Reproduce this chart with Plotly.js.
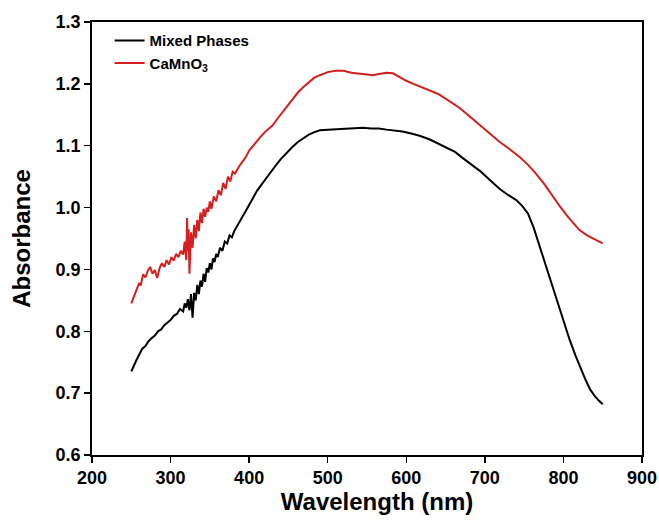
<!DOCTYPE html>
<html>
<head>
<meta charset="utf-8">
<script src="https://cdn.plot.ly/plotly-3.0.1.min.js"></script>
<style>html,body{margin:0;padding:0;background:#fff;}#chart{width:659px;height:520px;}</style>
</head>
<body>
<div id="chart"></div>
<script>
const mixedX = [250,253,256,260,264,268,272,276,280,284,288,292,296,300,304,308,312,316,318,320,322,324,326,328,330,332,334,336,338,340,342,344,346,348,350,352,354,356,358,360,363,366,369,372,375,378,381,385,390,395,400,405,410,415,420,425,430,435,440,448,455,462,469,476,483,490,500,512,525,535,545,555,565,575,585,595,605,617,630,640,652,662,672,681,694,706,719,730,740,748,755,762,770,777,783,790,796,802,808,815,821,828,834,840,845,850];
const mixedY = [0.735,0.745,0.752,0.762,0.772,0.776,0.784,0.789,0.793,0.800,0.803,0.810,0.814,0.818,0.825,0.828,0.836,0.832,0.845,0.838,0.852,0.834,0.860,0.822,0.862,0.850,0.875,0.860,0.882,0.872,0.893,0.880,0.902,0.895,0.910,0.900,0.918,0.912,0.925,0.920,0.935,0.930,0.945,0.942,0.955,0.952,0.962,0.970,0.982,0.993,1.005,1.017,1.027,1.036,1.045,1.052,1.062,1.070,1.078,1.089,1.098,1.106,1.112,1.118,1.122,1.125,1.126,1.127,1.127,1.128,1.129,1.128,1.128,1.126,1.125,1.123,1.120,1.116,1.110,1.104,1.097,1.090,1.080,1.071,1.059,1.045,1.030,1.020,1.012,1.002,0.990,0.968,0.936,0.910,0.886,0.858,0.833,0.808,0.786,0.762,0.742,0.722,0.706,0.695,0.688,0.682];

const camnoX = [250,252,255,257,260,262,265,268,271,274,277,280,283,286,289,292,295,298,301,304,307,310,313,316,318,320,321,322,323,324,326,328,330,332,334,336,338,340,342,344,346,348,350,352,355,358,361,364,367,370,373,376,379,382,385,388,392,396,400,405,410,415,420,425,430,435,440,448,455,462,469,476,483,490,500,510,520,530,540,550,558,565,575,583,590,600,609,620,630,640,650,660,668,680,694,706,719,732,745,755,765,775,785,796,805,812,820,830,840,850];
const camnoY = [0.845,0.852,0.862,0.870,0.878,0.874,0.892,0.887,0.898,0.904,0.893,0.899,0.886,0.902,0.910,0.904,0.915,0.908,0.920,0.914,0.925,0.920,0.930,0.924,0.945,0.915,0.983,0.930,0.965,0.893,0.960,0.935,0.972,0.950,0.980,0.962,0.992,0.975,0.998,0.985,1.000,0.993,1.010,0.998,1.018,1.010,1.028,1.020,1.040,1.030,1.050,1.042,1.058,1.055,1.062,1.068,1.075,1.082,1.092,1.100,1.108,1.115,1.122,1.127,1.133,1.142,1.150,1.163,1.175,1.186,1.195,1.203,1.210,1.214,1.219,1.221,1.221,1.218,1.217,1.215,1.214,1.216,1.218,1.217,1.212,1.205,1.200,1.194,1.189,1.184,1.176,1.168,1.161,1.148,1.133,1.120,1.106,1.094,1.081,1.069,1.055,1.039,1.020,1.001,0.986,0.975,0.964,0.955,0.948,0.942];

const seriesNames = ["<b>Mixed Phases</b>", "<b>CaMnO<sub>3</sub></b>"];
const xTickVals = [200,300,400,500,600,700,800,900];
const yTickVals = [0.6,0.7,0.8,0.9,1.0,1.1,1.2,1.3];
const yTickText = ["0.6","0.7","0.8","0.9","1.0","1.1","1.2","1.3"];

const fontFam = "Liberation Sans, Arial, sans-serif";

const traces = [
  {x: mixedX, y: mixedY, type: 'scatter', mode: 'lines', name: seriesNames[0],
   line: {color: '#000000', width: 2}},
  {x: camnoX, y: camnoY, type: 'scatter', mode: 'lines', name: seriesNames[1],
   line: {color: '#d41f1f', width: 2}}
];

const layout = {
  width: 659, height: 520,
  margin: {l: 92, r: 17, t: 22, b: 65},
  paper_bgcolor: '#ffffff', plot_bgcolor: '#ffffff',
  showlegend: true,
  legend: {x: 0.032, y: 0.995, xanchor: 'left', yanchor: 'top',
    font: {family: fontFam, size: 15, color: '#000'},
    bgcolor: 'rgba(0,0,0,0)', tracegroupgap: 0, itemwidth: 30},
  xaxis: {
    range: [200, 900], tickvals: xTickVals, ticks: 'outside', ticklen: 6, tickwidth: 1.5,
    tickcolor: '#000', showline: true, linecolor: '#000', linewidth: 1.8, mirror: true,
    showgrid: false, zeroline: false,
    tickfont: {family: fontFam, size: 18, color: '#000', weight: 'bold'},
    title: {text: '&nbsp;&nbsp;&nbsp;<b>Wavelength (nm)</b>', font: {family: fontFam, size: 24, color: '#000'}, standoff: 4}
  },
  yaxis: {
    range: [0.6, 1.3], tickvals: yTickVals, ticktext: yTickText, ticks: 'outside', ticklen: 6, tickwidth: 1.5,
    tickcolor: '#000', showline: true, linecolor: '#000', linewidth: 1.8, mirror: true,
    showgrid: false, zeroline: false,
    tickfont: {family: fontFam, size: 18, color: '#000', weight: 'bold'},
    title: {text: '<b>Absorbance</b>', font: {family: fontFam, size: 24, color: '#000'}, standoff: 18}
  }
};

Plotly.newPlot('chart', traces, layout, {displayModeBar: false, staticPlot: true});
</script>
</body>
</html>
